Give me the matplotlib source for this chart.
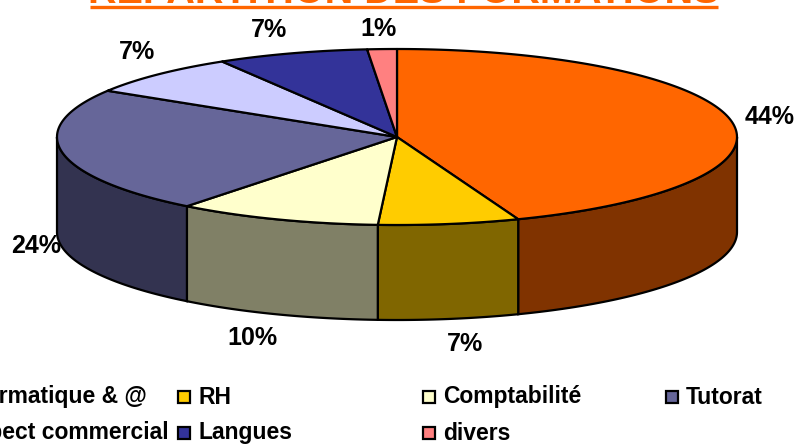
'''Pie 3D des formations, dessine a la main en coordonnees pixels.'''

import numpy as np
import matplotlib
matplotlib.use('Agg')
import matplotlib.pyplot as plt
from matplotlib.patches import Polygon, Rectangle

plt.rcParams['font.family'] = ['Liberation Sans', 'DejaVu Sans']

categories = ['Informatique & @', 'RH', 'Comptabilité', 'Tutorat',
              'Aspect commercial', 'Langues', 'divers']
values = [44.2, 6.7, 9.7, 23.2, 7.6, 7.2, 1.4]
pct_labels = ['44%', '7%', '10%', '24%', '7%', '7%', '1%']
colors = ['#FF6600', '#FFCC00', '#FFFFCC', '#666699',
          '#CCCCFF', '#333399', '#FF8080']
side_colors = ['#803300', '#806600', '#808066', '#333350',
               '#666680', '#1A1A4D', '#804040']
title = 'RÉPARTITION DES FORMATIONS'

label_xy = [(770, 117), (465, 344), (252, 338), (36, 246),
            (137, 52), (269, 30), (378, 29)]
legend_xy = [(None, 397), (185, 397), (430, 397), (673, 397),
             (None, 433), (185, 433), (430, 433)]
legend_end = [147, 0, 0, 0, 169, 0, 0]

cx, cy, rx, ry, depth = 397, 137, 340, 88, 95


def rim(theta):
    '''Point du bord superieur, theta en degres depuis le haut (sens horaire).'''
    t = np.radians(theta)
    return cx + rx * np.sin(t), cy - ry * np.cos(t)


fig = plt.figure(figsize=(7.98, 4.46), dpi=100)
ax = fig.add_axes([0, 0, 1, 1])
ax.set_xlim(0, 798)
ax.set_ylim(446, 0)
ax.axis('off')

edges = np.concatenate([[0], np.cumsum(values)]) / sum(values) * 360

# faces laterales, seulement la moitie avant
for i in range(len(values)):
    a, b = max(edges[i], 90), min(edges[i + 1], 270)
    if a >= b:
        continue
    th = np.linspace(a, b, 80)
    x, y = rim(th)
    pts = np.r_[np.c_[x, y], np.c_[x, y + depth][::-1]]
    ax.add_patch(Polygon(pts, closed=True, fc=side_colors[i], ec='black',
                         lw=1.6, zorder=2))

# dessus
for i in range(len(values)):
    th = np.linspace(edges[i], edges[i + 1], 150)
    x, y = rim(th)
    pts = np.r_[[[cx, cy]], np.c_[x, y]]
    ax.add_patch(Polygon(pts, closed=True, fc=colors[i], ec='black',
                         lw=1.6, joinstyle='round', zorder=3))

for lab, (lx, ly) in zip(pct_labels, label_xy):
    ax.text(lx, ly, lab, fontsize=18, fontweight='bold', ha='center',
            va='center', color='black', zorder=5)

# legende a la main, la premiere colonne sort de l'image
for i, cat in enumerate(categories):
    lx, ly = legend_xy[i]
    if lx is None:
        ax.text(legend_end[i], ly, cat, fontsize=16.5, fontweight='bold',
                ha='right', va='center')
    else:
        ax.add_patch(Rectangle((lx - 7, ly - 6), 12, 12, fc=colors[i],
                               ec='black', lw=1.6, zorder=4))
        ax.text(lx + 13, ly, cat, fontsize=16.5, fontweight='bold',
                ha='left', va='center')

# titre coupe par le haut de l'image
ax.text(404, 3, title, fontsize=28.5, fontweight='bold', color='#FF6600',
        ha='center', va='baseline')
ax.plot([90, 718], [7, 7], color='#FF6600', lw=2.4, solid_capstyle='butt')

fig.savefig('out.png', dpi=100)
